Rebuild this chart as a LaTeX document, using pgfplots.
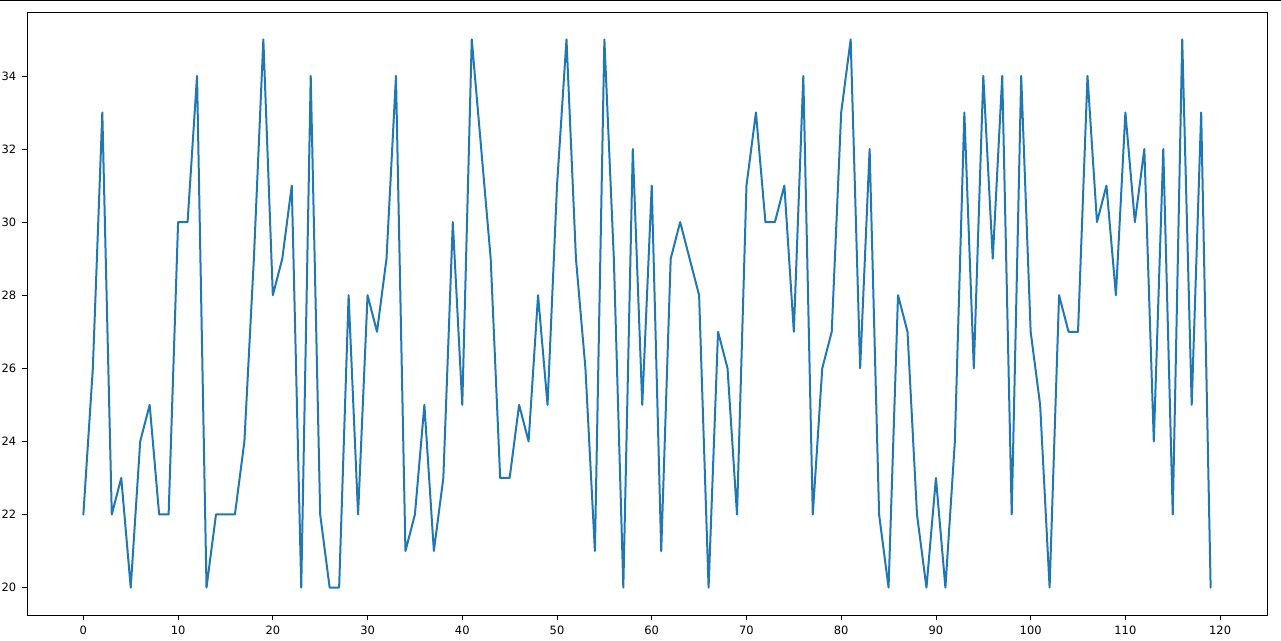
\documentclass[border=0pt]{standalone}
\usepackage{pgfplots}
\pgfplotsset{compat=1.18}
\usepackage{fontspec}
\setmainfont{DejaVu Sans}
\definecolor{mplblue}{HTML}{1F77B4}
\begin{document}
\begin{tikzpicture}
\useasboundingbox (-20.25pt,-19.5pt) rectangle (940.5pt,461.25pt);
\draw[black, line width=0.8pt] (-20.25pt,460.85pt) -- (940.5pt,460.85pt);
\begin{axis}[
  at={(0,0)}, anchor=south west,
  scale only axis,
  width=930pt, height=452.25pt,
  xmin=-5.95, xmax=124.95,
  ymin=19.25, ymax=35.75,
  xtick={0,10,...,120},
  ytick={20,22,...,34},
  tick align=outside,
  xtick pos=bottom, ytick pos=left,
  major tick length=3.6pt,
  axis line style={line width=0.6pt},
  every tick/.style={black, line width=0.6pt},
  tick label style={font=\fontsize{8.6}{10}\selectfont},
  /pgf/number format/assume math mode=true,
  xticklabel style={yshift=-1pt},
  yticklabel style={xshift=-1pt},
  clip=false,
]
\addplot[mplblue, line width=1.5pt, line join=round, line cap=round, no markers] coordinates {
(0,22)(1,26)(2,33)(3,22)(4,23)(5,20)(6,24)(7,25)(8,22)(9,22)
(10,30)(11,30)(12,34)(13,20)(14,22)(15,22)(16,22)(17,24)(18,29)(19,35)
(20,28)(21,29)(22,31)(23,20)(24,34)(25,22)(26,20)(27,20)(28,28)(29,22)
(30,28)(31,27)(32,29)(33,34)(34,21)(35,22)(36,25)(37,21)(38,23)(39,30)
(40,25)(41,35)(42,32)(43,29)(44,23)(45,23)(46,25)(47,24)(48,28)(49,25)
(50,31)(51,35)(52,29)(53,26)(54,21)(55,35)(56,29)(57,20)(58,32)(59,25)
(60,31)(61,21)(62,29)(63,30)(64,29)(65,28)(66,20)(67,27)(68,26)(69,22)
(70,31)(71,33)(72,30)(73,30)(74,31)(75,27)(76,34)(77,22)(78,26)(79,27)
(80,33)(81,35)(82,26)(83,32)(84,22)(85,20)(86,28)(87,27)(88,22)(89,20)
(90,23)(91,20)(92,24)(93,33)(94,26)(95,34)(96,29)(97,34)(98,22)(99,34)
(100,27)(101,25)(102,20)(103,28)(104,27)(105,27)(106,34)(107,30)(108,31)(109,28)
(110,33)(111,30)(112,32)(113,24)(114,32)(115,22)(116,35)(117,25)(118,33)(119,20)
};
\end{axis}
\end{tikzpicture}
\end{document}
